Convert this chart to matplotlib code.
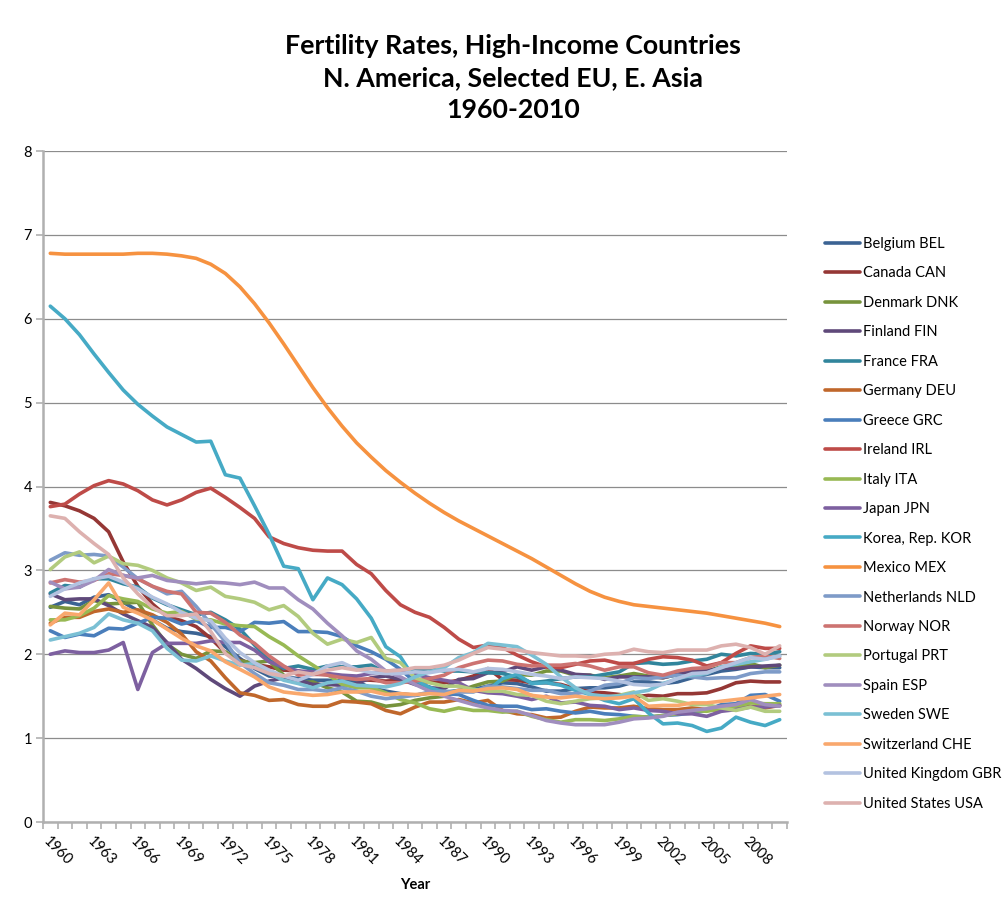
import matplotlib
matplotlib.use("Agg")
import matplotlib.pyplot as plt
from matplotlib.ticker import FixedLocator

plt.rcParams['font.family'] = ['Lato', 'DejaVu Sans']

years = list(range(1960, 2011))

countries = ["Belgium BEL", "Canada CAN", "Denmark DNK", "Finland FIN", "France FRA",
             "Germany DEU", "Greece GRC", "Ireland IRL", "Italy ITA", "Japan JPN",
             "Korea, Rep. KOR", "Mexico MEX", "Netherlands NLD", "Norway NOR",
             "Portugal PRT", "Spain ESP", "Sweden SWE", "Switzerland CHE",
             "United Kingdom GBR", "United States USA"]

belgium = [2.56, 2.63, 2.59, 2.68, 2.71, 2.62, 2.52, 2.41, 2.31, 2.27,
           2.25, 2.21, 2.09, 1.95, 1.83, 1.74, 1.73, 1.71, 1.69, 1.69,
           1.68, 1.67, 1.60, 1.56, 1.53, 1.51, 1.54, 1.54, 1.57, 1.58,
           1.62, 1.66, 1.65, 1.61, 1.56, 1.56, 1.59, 1.60, 1.60, 1.62,
           1.67, 1.67, 1.65, 1.67, 1.72, 1.76, 1.80, 1.82, 1.85, 1.84, 1.84]
canada = [3.81, 3.77, 3.71, 3.62, 3.46, 3.10, 2.81, 2.60, 2.45, 2.40,
          2.33, 2.19, 2.02, 1.93, 1.88, 1.85, 1.81, 1.80, 1.76, 1.76,
          1.74, 1.70, 1.69, 1.68, 1.69, 1.67, 1.67, 1.66, 1.69, 1.74,
          1.83, 1.70, 1.69, 1.66, 1.66, 1.64, 1.59, 1.55, 1.54, 1.52,
          1.49, 1.51, 1.50, 1.53, 1.53, 1.54, 1.59, 1.66, 1.68, 1.67, 1.67]
denmark = [2.57, 2.55, 2.54, 2.64, 2.60, 2.61, 2.62, 2.35, 2.12, 2.00,
           1.95, 2.04, 2.03, 1.92, 1.90, 1.92, 1.75, 1.66, 1.67, 1.60,
           1.55, 1.44, 1.43, 1.38, 1.40, 1.45, 1.48, 1.50, 1.56, 1.62,
           1.67, 1.68, 1.76, 1.75, 1.80, 1.80, 1.75, 1.75, 1.72, 1.74,
           1.77, 1.74, 1.72, 1.76, 1.78, 1.80, 1.85, 1.84, 1.89, 1.84, 1.87]
finland = [2.72, 2.65, 2.66, 2.66, 2.58, 2.48, 2.40, 2.32, 2.14, 1.94,
           1.83, 1.70, 1.59, 1.50, 1.62, 1.68, 1.72, 1.69, 1.64, 1.64,
           1.63, 1.65, 1.72, 1.74, 1.70, 1.64, 1.60, 1.59, 1.70, 1.71,
           1.78, 1.79, 1.85, 1.81, 1.85, 1.81, 1.76, 1.75, 1.70, 1.73,
           1.73, 1.73, 1.72, 1.76, 1.80, 1.80, 1.84, 1.83, 1.85, 1.86, 1.87]
france = [2.73, 2.82, 2.80, 2.90, 2.90, 2.84, 2.80, 2.67, 2.59, 2.53,
          2.47, 2.50, 2.41, 2.30, 2.11, 1.93, 1.83, 1.86, 1.82, 1.86,
          1.85, 1.85, 1.87, 1.78, 1.80, 1.81, 1.83, 1.80, 1.80, 1.79,
          1.78, 1.77, 1.73, 1.66, 1.68, 1.71, 1.73, 1.73, 1.76, 1.79,
          1.89, 1.90, 1.88, 1.89, 1.92, 1.94, 2.00, 1.98, 2.01, 2.00, 2.03]
germany = [2.37, 2.44, 2.44, 2.51, 2.54, 2.50, 2.53, 2.47, 2.38, 2.24,
           2.03, 1.92, 1.72, 1.54, 1.51, 1.45, 1.46, 1.40, 1.38, 1.38,
           1.44, 1.43, 1.41, 1.33, 1.29, 1.37, 1.43, 1.43, 1.46, 1.42,
           1.45, 1.33, 1.29, 1.28, 1.24, 1.25, 1.32, 1.37, 1.36, 1.36,
           1.38, 1.35, 1.34, 1.34, 1.36, 1.34, 1.33, 1.37, 1.38, 1.36, 1.39]
greece = [2.28, 2.20, 2.24, 2.22, 2.31, 2.30, 2.37, 2.44, 2.43, 2.36,
          2.40, 2.32, 2.32, 2.27, 2.38, 2.37, 2.39, 2.27, 2.27, 2.26,
          2.21, 2.10, 2.03, 1.94, 1.82, 1.67, 1.61, 1.53, 1.52, 1.45,
          1.39, 1.38, 1.38, 1.34, 1.35, 1.32, 1.30, 1.32, 1.29, 1.28,
          1.26, 1.25, 1.27, 1.28, 1.30, 1.33, 1.40, 1.41, 1.51, 1.52, 1.44]
ireland = [3.76, 3.79, 3.91, 4.01, 4.07, 4.03, 3.95, 3.84, 3.78, 3.84,
           3.93, 3.98, 3.87, 3.75, 3.62, 3.40, 3.32, 3.27, 3.24, 3.23,
           3.23, 3.07, 2.96, 2.76, 2.59, 2.50, 2.44, 2.32, 2.18, 2.08,
           2.11, 2.08, 1.99, 1.91, 1.85, 1.84, 1.88, 1.92, 1.93, 1.89,
           1.89, 1.94, 1.97, 1.96, 1.93, 1.86, 1.90, 2.01, 2.10, 2.07, 2.07]
italy = [2.41, 2.41, 2.46, 2.55, 2.70, 2.66, 2.63, 2.54, 2.49, 2.51,
         2.42, 2.41, 2.36, 2.34, 2.33, 2.21, 2.11, 1.98, 1.87, 1.76,
         1.64, 1.60, 1.60, 1.54, 1.46, 1.42, 1.35, 1.32, 1.36, 1.33,
         1.33, 1.31, 1.32, 1.26, 1.22, 1.19, 1.22, 1.22, 1.21, 1.23,
         1.26, 1.25, 1.27, 1.29, 1.33, 1.32, 1.35, 1.37, 1.42, 1.41, 1.41]
japan = [2.00, 2.04, 2.02, 2.02, 2.05, 2.14, 1.58, 2.02, 2.13, 2.13,
         2.13, 2.16, 2.14, 2.14, 2.05, 1.91, 1.85, 1.80, 1.79, 1.77,
         1.75, 1.74, 1.77, 1.80, 1.81, 1.76, 1.72, 1.69, 1.66, 1.57,
         1.54, 1.53, 1.50, 1.46, 1.50, 1.42, 1.43, 1.39, 1.38, 1.34,
         1.36, 1.33, 1.32, 1.29, 1.29, 1.26, 1.32, 1.34, 1.37, 1.37, 1.39]
korea = [6.15, 6.00, 5.81, 5.58, 5.36, 5.15, 4.98, 4.84, 4.71, 4.62,
         4.53, 4.54, 4.14, 4.10, 3.77, 3.43, 3.05, 3.02, 2.65, 2.91,
         2.83, 2.66, 2.43, 2.09, 1.97, 1.70, 1.60, 1.55, 1.56, 1.58,
         1.57, 1.71, 1.76, 1.65, 1.66, 1.63, 1.57, 1.52, 1.45, 1.41,
         1.47, 1.30, 1.17, 1.18, 1.15, 1.08, 1.12, 1.25, 1.19, 1.15, 1.22]
mexico = [6.78, 6.77, 6.77, 6.77, 6.77, 6.77, 6.78, 6.78, 6.77, 6.75,
          6.72, 6.65, 6.54, 6.38, 6.18, 5.95, 5.70, 5.44, 5.18, 4.94,
          4.72, 4.52, 4.35, 4.19, 4.05, 3.92, 3.80, 3.69, 3.59, 3.50,
          3.41, 3.32, 3.23, 3.14, 3.04, 2.94, 2.84, 2.75, 2.68, 2.63,
          2.59, 2.57, 2.55, 2.53, 2.51, 2.49, 2.46, 2.43, 2.40, 2.37, 2.33]
netherlands = [3.12, 3.21, 3.18, 3.19, 3.17, 3.04, 2.90, 2.81, 2.72, 2.75,
               2.57, 2.36, 2.15, 1.90, 1.77, 1.66, 1.63, 1.58, 1.58, 1.56,
               1.60, 1.56, 1.50, 1.47, 1.49, 1.51, 1.55, 1.56, 1.55, 1.55,
               1.62, 1.61, 1.59, 1.57, 1.57, 1.53, 1.53, 1.56, 1.63, 1.65,
               1.72, 1.71, 1.73, 1.75, 1.73, 1.71, 1.72, 1.72, 1.77, 1.79, 1.79]
norway = [2.85, 2.89, 2.86, 2.88, 2.96, 2.94, 2.90, 2.81, 2.75, 2.72,
          2.50, 2.49, 2.38, 2.23, 2.13, 1.98, 1.86, 1.75, 1.77, 1.75,
          1.72, 1.70, 1.71, 1.66, 1.66, 1.68, 1.71, 1.75, 1.84, 1.89,
          1.93, 1.92, 1.88, 1.86, 1.87, 1.87, 1.89, 1.86, 1.81, 1.85,
          1.85, 1.78, 1.75, 1.80, 1.83, 1.84, 1.90, 1.90, 1.96, 1.98, 1.95]
portugal = [3.01, 3.16, 3.22, 3.09, 3.17, 3.08, 3.06, 3.00, 2.91, 2.85,
            2.76, 2.80, 2.69, 2.66, 2.62, 2.53, 2.58, 2.45, 2.25, 2.12,
            2.18, 2.14, 2.20, 1.95, 1.90, 1.72, 1.66, 1.62, 1.62, 1.58,
            1.56, 1.56, 1.52, 1.51, 1.44, 1.41, 1.44, 1.47, 1.48, 1.51,
            1.55, 1.45, 1.47, 1.44, 1.40, 1.40, 1.36, 1.33, 1.37, 1.32, 1.32]
spain = [2.86, 2.78, 2.80, 2.88, 3.01, 2.94, 2.91, 2.94, 2.88, 2.86,
         2.84, 2.86, 2.85, 2.83, 2.86, 2.79, 2.79, 2.65, 2.54, 2.37,
         2.22, 2.04, 1.94, 1.80, 1.73, 1.64, 1.56, 1.50, 1.45, 1.40,
         1.36, 1.33, 1.32, 1.27, 1.21, 1.18, 1.16, 1.16, 1.16, 1.19,
         1.23, 1.24, 1.26, 1.31, 1.33, 1.35, 1.38, 1.40, 1.46, 1.40, 1.38]
sweden = [2.17, 2.21, 2.25, 2.32, 2.48, 2.41, 2.37, 2.28, 2.07, 1.93,
          1.92, 1.98, 1.92, 1.87, 1.89, 1.77, 1.69, 1.65, 1.60, 1.66,
          1.68, 1.63, 1.62, 1.61, 1.65, 1.73, 1.79, 1.84, 1.96, 2.02,
          2.13, 2.11, 2.09, 1.99, 1.88, 1.73, 1.60, 1.52, 1.50, 1.50,
          1.54, 1.57, 1.65, 1.71, 1.75, 1.77, 1.85, 1.88, 1.91, 1.94, 1.98]
switzerland = [2.35, 2.49, 2.47, 2.65, 2.85, 2.56, 2.49, 2.41, 2.30, 2.19,
               2.10, 2.04, 1.91, 1.82, 1.73, 1.61, 1.55, 1.53, 1.51, 1.52,
               1.55, 1.55, 1.56, 1.52, 1.53, 1.52, 1.53, 1.52, 1.57, 1.56,
               1.59, 1.60, 1.58, 1.51, 1.49, 1.48, 1.50, 1.48, 1.47, 1.48,
               1.50, 1.38, 1.39, 1.39, 1.42, 1.42, 1.44, 1.46, 1.48, 1.50, 1.52]
uk = [2.69, 2.78, 2.85, 2.90, 2.93, 2.86, 2.78, 2.68, 2.60, 2.50,
      2.43, 2.40, 2.19, 2.02, 1.90, 1.81, 1.74, 1.69, 1.76, 1.86,
      1.90, 1.82, 1.78, 1.77, 1.77, 1.79, 1.78, 1.81, 1.82, 1.79,
      1.83, 1.82, 1.79, 1.76, 1.74, 1.71, 1.73, 1.72, 1.71, 1.68,
      1.64, 1.63, 1.64, 1.71, 1.77, 1.78, 1.84, 1.90, 1.96, 1.94, 1.98]
usa = [3.65, 3.62, 3.46, 3.32, 3.19, 2.91, 2.72, 2.56, 2.46, 2.46,
       2.48, 2.27, 2.01, 1.88, 1.84, 1.77, 1.74, 1.79, 1.76, 1.81,
       1.84, 1.81, 1.83, 1.80, 1.81, 1.84, 1.84, 1.87, 1.93, 2.01,
       2.08, 2.06, 2.05, 2.02, 2.00, 1.98, 1.98, 1.97, 2.00, 2.01,
       2.06, 2.03, 2.02, 2.05, 2.05, 2.05, 2.10, 2.12, 2.08, 2.00, 2.10]

series = [belgium, canada, denmark, finland, france, germany, greece, ireland,
          italy, japan, korea, mexico, netherlands, norway, portugal, spain,
          sweden, switzerland, uk, usa]

colors = ['#3B6393', '#953735', '#77933C', '#5F497A', '#31859C', '#C0672B',
          '#4A7EBB', '#BE4B48', '#98B954', '#7D60A0', '#46AAC5', '#F69240',
          '#7E9BC8', '#CD7371', '#B2CB7E', '#A08EBE', '#7BC0D4', '#F9A86D',
          '#B3C2E0', '#DDB1AF']

tick_years = list(range(1960, 2011, 3))

fig = plt.figure(figsize=(10.04, 9.07), dpi=100)
ax = fig.add_axes([43 / 1004, 1 - 822 / 907, 744 / 1004, 671 / 907])

handles = []
for vals, col, name in zip(series, colors, countries):
    ln, = ax.plot(years, vals, color=col, lw=2.6, label=name,
                  solid_joinstyle='round', solid_capstyle='round')
    handles.append(ln)

ax.set_xlim(1959.5, 2010.5)
ax.set_ylim(0, 8)
ax.set_yticks(range(0, 9))
ax.yaxis.grid(True, color='#8C8C8C', lw=0.9)
ax.set_axisbelow(True)

ax.xaxis.set_major_locator(FixedLocator(tick_years))
ax.xaxis.set_minor_locator(FixedLocator([y - 0.5 for y in years] + [2010.5]))
ax.set_xticklabels([str(y) for y in tick_years], rotation=-45, ha='left',
                   va='top', rotation_mode='anchor', fontsize=10.5)
ax.tick_params(axis='x', which='major', length=0, pad=9)
ax.tick_params(axis='x', which='minor', length=5, color='#B0B0B0', width=1.2)
ax.tick_params(axis='y', length=5, color='#B0B0B0', width=1.2, labelsize=10.5, pad=3)

for s in ['top', 'right']:
    ax.spines[s].set_visible(False)
for s in ['left', 'bottom']:
    ax.spines[s].set_color('#B0B0B0')
    ax.spines[s].set_linewidth(1.8)

ax.set_xlabel('Year', fontsize=10.5, fontweight='bold', labelpad=7)

fig.text(513 / 1004, 1 - 78 / 907,
         "Fertility Rates, High-Income Countries\nN. America, Selected EU, E. Asia\n1960-2010",
         ha='center', va='center', fontsize=19.3, fontweight='bold', linespacing=1.42)

leg = ax.legend(handles=handles, loc='upper left',
                bbox_to_anchor=(825 / 1004, 1 - 237 / 907),
                bbox_transform=fig.transFigure, frameon=False, fontsize=10.5,
                handlelength=2.4, handletextpad=0.2, labelspacing=1.06,
                borderpad=0, borderaxespad=0)

fig.savefig('out.png', dpi=100)
